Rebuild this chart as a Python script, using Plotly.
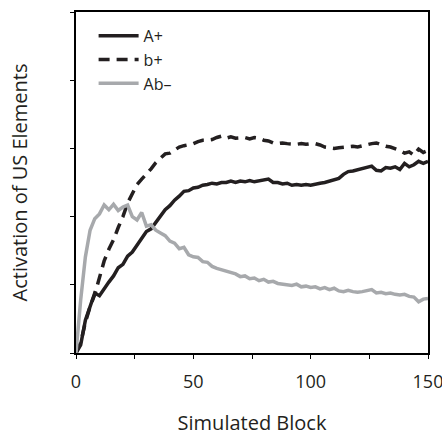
import plotly.graph_objects as go

blocks = list(range(0, 151, 2))

a_plus = [0, 0.12, 0.48, 0.70, 0.88, 0.84, 0.95, 1.04, 1.13, 1.25,
          1.30, 1.42, 1.48, 1.58, 1.66, 1.78, 1.82, 1.92, 2.00, 2.10,
          2.16, 2.24, 2.30, 2.37, 2.38, 2.42, 2.43, 2.46, 2.47, 2.49,
          2.48, 2.50, 2.50, 2.52, 2.50, 2.52, 2.51, 2.53, 2.51, 2.52,
          2.54, 2.55, 2.50, 2.50, 2.48, 2.49, 2.46, 2.47, 2.46, 2.47,
          2.46, 2.48, 2.49, 2.50, 2.52, 2.53, 2.56, 2.62, 2.66, 2.67,
          2.69, 2.71, 2.72, 2.74, 2.68, 2.67, 2.72, 2.71, 2.73, 2.69,
          2.78, 2.73, 2.76, 2.81, 2.78, 2.81]

b_plus = [0, 0.15, 0.45, 0.68, 0.86, 1.10, 1.35, 1.52, 1.66, 1.84,
          2.00, 2.20, 2.35, 2.47, 2.55, 2.62, 2.70, 2.79, 2.86, 2.92,
          2.93, 2.97, 3.02, 3.04, 3.05, 3.07, 3.10, 3.12, 3.12, 3.13,
          3.16, 3.18, 3.15, 3.17, 3.15, 3.15, 3.16, 3.14, 3.16, 3.15,
          3.12, 3.11, 3.08, 3.07, 3.08, 3.07, 3.06, 3.06, 3.07, 3.06,
          3.07, 3.07, 3.05, 3.02, 3.01, 3.00, 3.01, 3.02, 3.03, 3.03,
          3.02, 3.04, 3.05, 3.07, 3.08, 3.05, 3.03, 3.02, 3.00, 2.97,
          2.93, 2.95, 2.90, 2.99, 2.94, 2.97]

ab_minus = [0, 0.78, 1.41, 1.80, 1.97, 2.04, 2.17, 2.10, 2.18, 2.09,
            2.14, 2.17, 2.00, 1.95, 2.06, 1.86, 1.88, 1.80, 1.76, 1.72,
            1.64, 1.61, 1.53, 1.55, 1.44, 1.41, 1.40, 1.34, 1.33, 1.27,
            1.24, 1.22, 1.19, 1.17, 1.16, 1.12, 1.13, 1.09, 1.10, 1.06,
            1.08, 1.04, 1.05, 1.02, 1.01, 1.00, 0.99, 1.01, 0.97, 0.98,
            0.96, 0.97, 0.94, 0.96, 0.93, 0.95, 0.91, 0.90, 0.92, 0.90,
            0.89, 0.90, 0.92, 0.93, 0.88, 0.89, 0.87, 0.88, 0.86, 0.85,
            0.86, 0.83, 0.82, 0.75, 0.79, 0.80]

x_tick_vals = [0, 25, 50, 75, 100, 125, 150]
x_tick_text = ["0", "", "50", "", "100", "", "150"]
y_tick_vals = [0, 1, 2, 3, 4, 5]

FONT = "Open Sans, Noto Sans, sans-serif"
TXT = "#231f20"

fig = go.Figure()
fig.add_trace(go.Scatter(x=blocks, y=a_plus, mode="lines", name="A+",
                         line=dict(color="#231f20", width=3.5)))
fig.add_trace(go.Scatter(x=blocks, y=b_plus, mode="lines", name="b+",
                         line=dict(color="#231f20", width=3.5, dash="11px,7px")))
fig.add_trace(go.Scatter(x=blocks, y=ab_minus, mode="lines", name="Ab\u2013",
                         line=dict(color="#a7a9ac", width=3.5)))

fig.update_layout(
    width=442, height=441,
    margin=dict(l=76, r=14, t=12, b=88),
    paper_bgcolor="white", plot_bgcolor="white",
    font=dict(family=FONT, size=16, color=TXT),
    showlegend=True,
    legend=dict(x=0.05, y=0.98, xanchor="left", yanchor="top",
                bgcolor="rgba(0,0,0,0)", font=dict(size=16, color=TXT),
                itemwidth=40, tracegroupgap=0),
    xaxis=dict(range=[0, 150], tickvals=x_tick_vals, ticktext=x_tick_text,
               ticks="outside", ticklen=4, tickcolor="black", tickwidth=1,
               showline=True, linecolor="black", linewidth=1.5, mirror=True,
               showgrid=False, zeroline=False, automargin=False,
               ticklabeloverflow="allow", ticklabelstandoff=8,
               tickfont=dict(size=18, color=TXT),
               title=dict(text="Simulated Block", font=dict(size=20, color=TXT), standoff=24)),
    yaxis=dict(range=[0, 5], tickvals=y_tick_vals, showticklabels=False,
               ticks="outside", ticklen=4, tickcolor="black", tickwidth=1,
               showline=True, linecolor="black", linewidth=1.5, mirror=True,
               showgrid=False, zeroline=False, automargin=False,
               title=dict(text="Activation of US Elements", font=dict(size=20, color=TXT), standoff=37)),
)

fig.write_html("out.html", config={"displayModeBar": False})

with open("out.html", "r", encoding="utf-8") as f:
    html = f.read()
html = html.replace("<head>", "<head><style>html,body{margin:0;padding:0;overflow:hidden;}</style>", 1)
with open("out.html", "w", encoding="utf-8") as f:
    f.write(html)
